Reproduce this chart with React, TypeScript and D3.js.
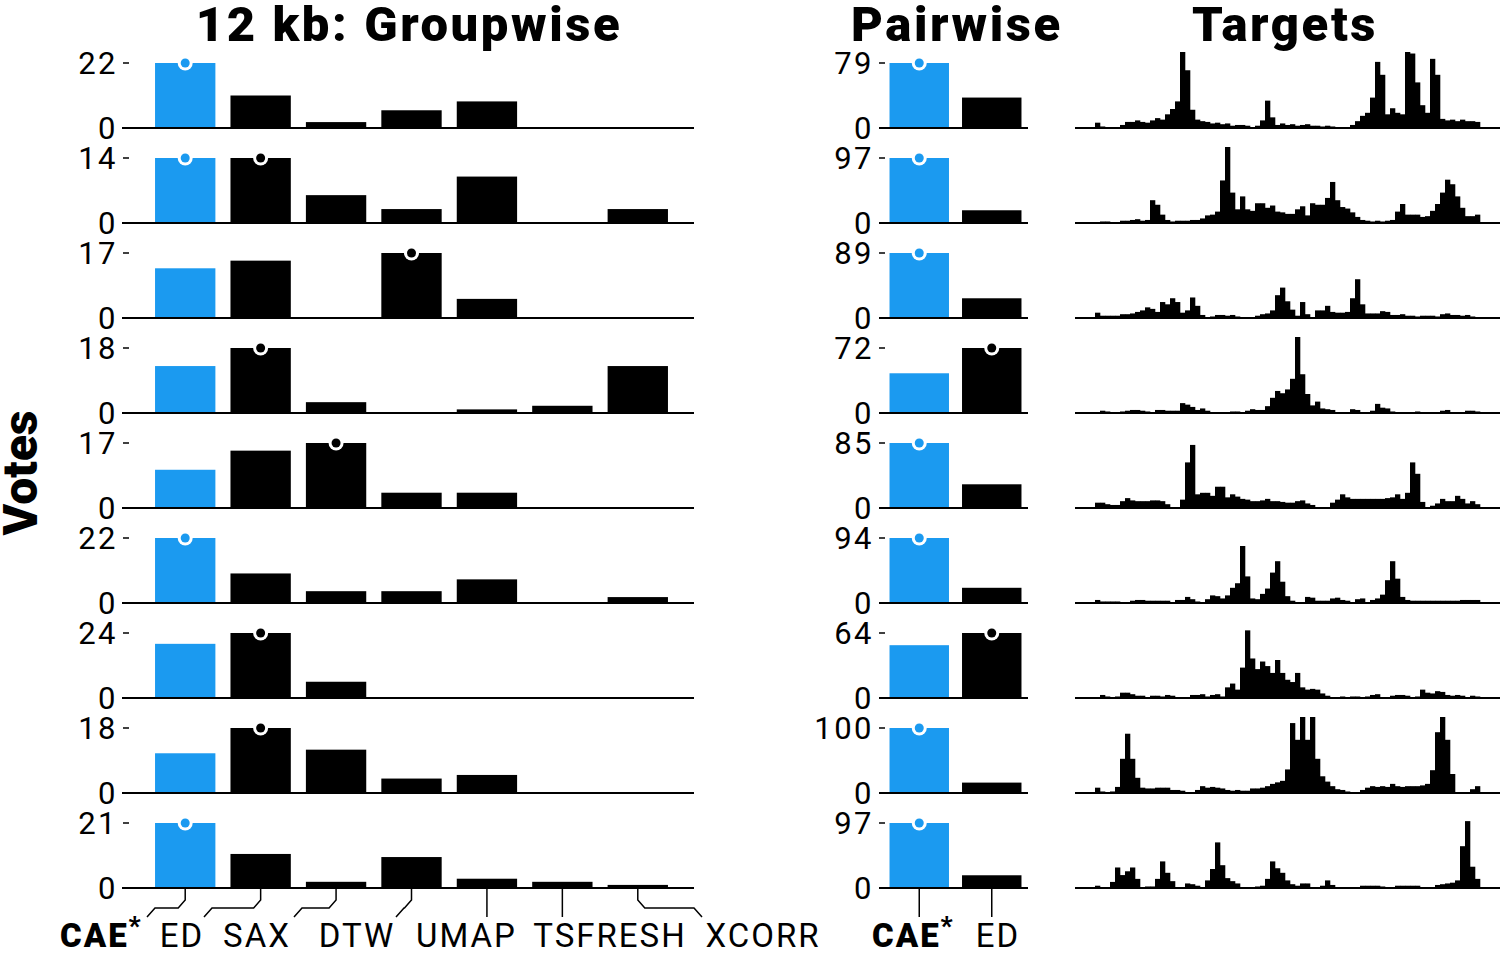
import React from "react";
import * as d3 from "d3";

const methods = ["CAE", "ED", "SAX", "DTW", "UMAP", "TSFRESH", "XCORR"];
const pairMethods = ["CAE", "ED"];

const groupwiseVotes = [
  [22, 11, 2, 6, 9, 0, 0],
  [14, 14, 6, 3, 10, 0, 3],
  [13, 15, 0, 17, 5, 0, 0],
  [13, 18, 3, 0, 1, 2, 13],
  [10, 15, 17, 4, 4, 0, 0],
  [22, 10, 4, 4, 8, 0, 2],
  [20, 24, 6, 0, 0, 0, 0],
  [11, 18, 12, 4, 5, 0, 0],
  [21, 11, 2, 10, 3, 2, 1],
];

const pairwiseVotes = [
  [79, 37],
  [97, 19],
  [89, 27],
  [44, 72],
  [85, 31],
  [94, 22],
  [52, 64],
  [100, 16],
  [97, 19],
];

const target1 = [7,2,0.5,0.5,0.5,4,8,8,10,8,7,10,13,11,18,25,35,100,76,24,11,9,8,6,7,5,6,3,4,4,3,1,3,10,36,14,4,6,4,5,3,4,5,3,3,2,3,2,1,1,1,4,9,16,20,40,87,70,18,26,20,18,100,98,60,30,20,91,70,12,10,11,9,11,9,9,8];
const target2 = [1,2,2,1,1,3,3,4,5,3,4,30,24,11,4,2,3,3,3,4,4,6,10,11,15,56,100,40,18,35,18,16,26,26,20,23,15,14,12,12,18,22,10,26,24,24,33,54,30,21,19,14,8,4,3,2,3,2,3,4,15,25,11,11,11,8,9,16,25,40,57,51,35,20,9,9,11];
const target3 = [7,3,3,3,3,5,5,6,8,10,14,12,8,21,18,26,21,7,10,27,16,4,1,2,4,4,3,4,2,1,1,1,3,5,6,10,30,40,22,11,3,21,5,1,10,10,16,8,7,7,8,26,51,18,6,6,6,9,8,4,4,5,3,3,2,3,3,3,2,5,6,4,4,3,4,2,1];
const target4 = [1,3,2,1,1,2,3,4,4,3,2,1,4,4,3,3,3,13,11,8,4,6,3,1,1,1,1,2,2,1,3,5,4,4,9,20,29,26,31,45,100,51,25,10,15,6,5,4,1,1,1,5,4,1,1,3,12,7,6,2,1,1,1,1,2,1,1,1,1,3,4,1,1,1,3,3,2];
const target5 = [7,7,5,4,4,9,13,10,9,9,9,10,10,9,5,1,1,11,60,83,18,20,20,16,28,28,14,18,15,12,11,9,9,10,12,9,9,8,7,7,9,10,6,4,1,1,1,7,11,18,14,12,12,12,12,12,12,12,13,14,18,12,20,60,45,8,1,3,6,12,9,9,16,12,6,9,5];
const target6 = [4,2,2,2,2,1,1,3,4,4,3,3,3,3,3,1,4,4,8,5,2,1,5,10,9,6,10,20,26,75,35,6,5,12,19,40,55,28,9,3,1,1,8,7,3,3,3,6,7,4,3,1,5,6,1,4,6,11,30,55,32,8,4,3,3,3,3,3,3,3,3,3,3,4,4,4,4];
const target7 = [1,4,2,1,2,7,7,5,3,3,1,3,3,2,4,3,1,1,1,4,4,5,2,4,5,2,14,19,11,40,89,52,38,48,42,33,50,33,24,21,33,14,11,12,11,6,3,1,1,2,1,2,2,1,2,4,5,1,1,3,4,4,3,1,2,11,7,6,9,8,4,3,4,3,1,3,2];
const target8 = [7,2,0,2,8,45,78,45,20,7,6,6,7,7,7,4,4,3,1,1,4,9,7,8,7,6,4,3,4,3,3,6,6,7,9,12,14,16,31,92,70,110,70,115,45,22,15,9,5,4,2,1,1,4,7,9,8,9,8,12,9,8,9,9,9,10,12,30,80,120,70,25,1,0,0,5,9];
const target9 = [3,1,1,8,27,17,22,27,12,1,2,2,12,35,20,9,0,0,6,5,3,0,10,25,60,30,13,9,6,0,0,0,2,3,12,35,26,20,10,5,3,6,6,1,1,3,10,4,0,0,0,0,0,3,3,3,3,2,0,0,3,3,3,3,3,1,0,0,4,5,6,7,10,55,88,28,12];

const targets = [target1, target2, target3, target4, target5, target6, target7, target8, target9];

const BLUE = "#1b9af0";
const FONT = "Roboto, 'Open Sans', sans-serif";

// label layout for bottom axis
const groupLabelX = [60, 182, 257, 357, 466.5, 610, 763];
const groupLeaderEnd = [147, 204, 294, 396, 487, 562, 702];
const pairLabelX = [872, 998];

export default function App() {
  const rowBase = d3.scaleLinear().domain([0, 8]).range([128, 888]);
  const barH = 65;

  const xG = d3
    .scaleBand<string>()
    .domain(methods)
    .range([147.5, 675.5])
    .paddingInner(0.2)
    .paddingOuter(0.1);
  const xP = d3
    .scaleBand<string>()
    .domain(pairMethods)
    .range([883, 1028])
    .paddingInner(0.18)
    .paddingOuter(0.09);
  const nBins = target1.length;
  const xT = d3.scaleLinear().domain([0, nBins]).range([1095, 1480]);

  const marker = (cx: number, cy: number, color: string, key: string) => (
    <g key={key}>
      <circle cx={cx} cy={cy} r={7.5} fill="#fff" />
      <circle cx={cx} cy={cy} r={4.5} fill={color} />
    </g>
  );

  const TICK_FS = 31;
  const TICK_LS = 2.5;

  const rows = groupwiseVotes.map((vals, i) => {
    const base = rowBase(i);
    const gMax = d3.max(vals) as number;
    const yG = d3.scaleLinear().domain([0, gMax]).range([base, base - barH]);
    const pv = pairwiseVotes[i];
    const pMax = d3.max(pv) as number;
    const yP = d3.scaleLinear().domain([0, pMax]).range([base, base - barH]);
    const tv = targets[i];
    const yT = d3.scaleLinear().domain([0, 100]).range([base, base - 76]).clamp(true);
    return (
      <g key={"row" + i}>
        {/* groupwise */}
        <text x={118} y={yG(gMax)} dy="0.36em" textAnchor="end" fontSize={TICK_FS} letterSpacing={TICK_LS} fontFamily={FONT}>
          {gMax}
        </text>
        <line x1={123} x2={129} y1={yG(gMax)} y2={yG(gMax)} stroke="#000" strokeWidth={1.5} />
        <text x={118} y={base} dy="0.36em" textAnchor="end" fontSize={TICK_FS} letterSpacing={TICK_LS} fontFamily={FONT}>
          0
        </text>
        {vals.map((v, j) =>
          v > 0 ? (
            <rect
              key={"g" + j}
              x={xG(methods[j])}
              width={xG.bandwidth()}
              y={yG(v)}
              height={base - yG(v)}
              fill={j === 0 ? BLUE : "#000"}
            />
          ) : null
        )}
        <line x1={122} x2={694} y1={base} y2={base} stroke="#000" strokeWidth={2} />
        {vals.map((v, j) =>
          v === gMax
            ? marker((xG(methods[j]) as number) + xG.bandwidth() / 2, yG(v), j === 0 ? BLUE : "#000", "gm" + j)
            : null
        )}

        {/* pairwise */}
        <text x={874} y={yP(pMax)} dy="0.36em" textAnchor="end" fontSize={TICK_FS} letterSpacing={TICK_LS} fontFamily={FONT}>
          {pMax}
        </text>
        <line x1={879} x2={885} y1={yP(pMax)} y2={yP(pMax)} stroke="#000" strokeWidth={1.5} />
        <text x={874} y={base} dy="0.36em" textAnchor="end" fontSize={TICK_FS} letterSpacing={TICK_LS} fontFamily={FONT}>
          0
        </text>
        {pv.map((v, j) => (
          <rect
            key={"p" + j}
            x={xP(pairMethods[j])}
            width={xP.bandwidth()}
            y={yP(v)}
            height={base - yP(v)}
            fill={j === 0 ? BLUE : "#000"}
          />
        ))}
        <line x1={879} x2={1028} y1={base} y2={base} stroke="#000" strokeWidth={2} />
        {pv.map((v, j) =>
          v === pMax
            ? marker((xP(pairMethods[j]) as number) + xP.bandwidth() / 2, yP(v), j === 0 ? BLUE : "#000", "pm" + j)
            : null
        )}

        {/* targets */}
        {tv.map((v, k) => (
          <rect
            key={"t" + k}
            x={xT(k)}
            width={xT(k + 1) - xT(k) + 0.3}
            y={yT(v)}
            height={base - yT(v)}
            fill="#000"
          />
        ))}
        <line x1={1075} x2={1500} y1={base} y2={base} stroke="#000" strokeWidth={2} />
      </g>
    );
  });

  const lastBase = rowBase(8);
  const leaderPath = (bx: number, end: number) => {
    if (Math.abs(bx - end) < 1) return `M${bx},${lastBase + 1}V${lastBase + 29}`;
    const s = end < bx ? 1 : -1;
    return `M${bx},${lastBase + 1}V${lastBase + 12}L${bx - s * 7},${lastBase + 20}H${end + s * 8}L${end},${lastBase + 29}`;
  };

  const LABEL_Y = 947;
  const LABEL_FS = 33;
  const LABEL_LS = 2;

  return (
    <svg width={1500} height={953} style={{ display: "block", position: "absolute", left: 0, top: 0 }}>
      <rect width={1500} height={953} fill="#fff" />
      <text x={409} y={41} textAnchor="middle" fontSize={49} fontWeight={900} letterSpacing={2.6} fontFamily={FONT}>
        12 kb: Groupwise
      </text>
      <text x={957} y={41} textAnchor="middle" fontSize={49} fontWeight={900} letterSpacing={2.6} fontFamily={FONT}>
        Pairwise
      </text>
      <text x={1285} y={41} textAnchor="middle" fontSize={49} fontWeight={900} letterSpacing={2.6} fontFamily={FONT}>
        Targets
      </text>
      <text
        transform="translate(37,473) rotate(-90)"
        textAnchor="middle"
        fontSize={48}
        fontWeight={900}
        fontFamily={FONT}
      >
        Votes
      </text>
      {rows}

      {/* groupwise bottom labels */}
      {methods.map((m, j) => {
        const bx = (xG(m) as number) + xG.bandwidth() / 2;
        return (
          <path key={"lg" + j} d={leaderPath(bx, groupLeaderEnd[j])} fill="none" stroke="#000" strokeWidth={1.5} />
        );
      })}
      {methods.map((m, j) =>
        j === 0 ? (
          <text key={"tg" + j} x={groupLabelX[j]} y={LABEL_Y} fontSize={LABEL_FS} letterSpacing={LABEL_LS} fontFamily={FONT}>
            <tspan fontWeight={900}>{m}</tspan>
            <tspan fontWeight={900} fontSize={26} dy={-12}>*</tspan>
          </text>
        ) : (
          <text key={"tg" + j} x={groupLabelX[j]} y={LABEL_Y} textAnchor="middle" fontSize={LABEL_FS} letterSpacing={LABEL_LS} fontFamily={FONT}>
            {m}
          </text>
        )
      )}

      {/* pairwise bottom labels */}
      {pairMethods.map((m, j) => {
        const bx = (xP(m) as number) + xP.bandwidth() / 2;
        return <path key={"lp" + j} d={leaderPath(bx, bx)} fill="none" stroke="#000" strokeWidth={1.5} />;
      })}
      <text x={pairLabelX[0]} y={LABEL_Y} fontSize={LABEL_FS} letterSpacing={LABEL_LS} fontFamily={FONT}>
        <tspan fontWeight={900}>{pairMethods[0]}</tspan>
        <tspan fontWeight={900} fontSize={26} dy={-12}>*</tspan>
      </text>
      <text x={pairLabelX[1]} y={LABEL_Y} textAnchor="middle" fontSize={LABEL_FS} letterSpacing={LABEL_LS} fontFamily={FONT}>
        {pairMethods[1]}
      </text>
    </svg>
  );
}
